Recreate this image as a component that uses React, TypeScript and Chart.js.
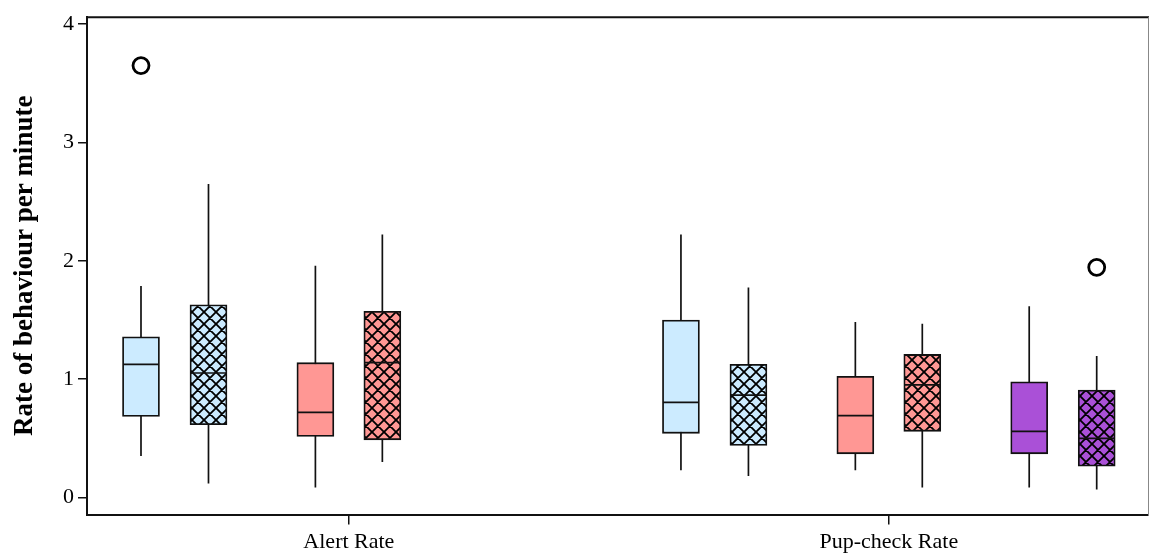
import React, { useEffect, useRef } from "react";
import { Chart, registerables } from "chart.js";

Chart.register(...registerables);

// ---------- data ----------
const categories = ["Alert Rate", "Pup-check Rate"];
const yTickValues = [0, 1, 2, 3, 4];

// [min, q1, median, q3, max] per category (null = no box in that category)
const lightBlueSolid = [
  [0.35, 0.685, 1.125, 1.357, 1.788],
  [0.229, 0.542, 0.803, 1.5, 2.222],
];
const lightBlueHatched = [
  [0.118, 0.615, 1.052, 1.629, 2.65],
  [0.181, 0.439, 0.865, 1.125, 1.774],
];
const salmonSolid = [
  [0.084, 0.515, 0.719, 1.139, 1.959],
  [0.229, 0.369, 0.691, 1.024, 1.483],
];
const salmonHatched = [
  [0.299, 0.487, 1.139, 1.573, 2.222],
  [0.084, 0.559, 0.951, 1.209, 1.469],
];
const purpleSolid = [null, [0.084, 0.369, 0.559, 0.977, 1.615]];
const purpleHatched = [null, [0.067, 0.265, 0.5, 0.907, 1.195]];

// outliers per category
const lightBlueSolidOutliers = [[3.65], []];
const purpleHatchedOutliers = [[], [1.945]];

// ---------- styles ----------
const FONT = "'Liberation Serif', 'Times New Roman', serif";
const slotOffsets = [-0.385, -0.26, -0.062, 0.062, 0.26, 0.385];

function makePattern(color: string): CanvasPattern | string {
  const size = 12;
  const c = document.createElement("canvas");
  c.width = size;
  c.height = size;
  const g = c.getContext("2d");
  if (!g) return color;
  g.fillStyle = color;
  g.fillRect(0, 0, size, size);
  g.strokeStyle = "#000";
  g.lineWidth = 1.8;
  g.beginPath();
  for (const k of [-size, 0, size]) {
    g.moveTo(k, 0);
    g.lineTo(k + size, size);
  }
  for (const k of [0, size, 2 * size]) {
    g.moveTo(k, 0);
    g.lineTo(k - size, size);
  }
  g.stroke();
  return g.createPattern(c, "repeat") || color;
}

const framePlugin = {
  id: "frame",
  afterDraw(chart: any) {
    const { ctx, chartArea } = chart;
    const { left, right, top, bottom } = chartArea;
    ctx.save();
    ctx.strokeStyle = "#111";
    ctx.lineWidth = 2;
    ctx.beginPath();
    ctx.moveTo(left, top);
    ctx.lineTo(right + 1, top);
    ctx.stroke();
    ctx.strokeStyle = "#888";
    ctx.lineWidth = 1;
    ctx.beginPath();
    ctx.moveTo(right + 0.5, top);
    ctx.lineTo(right + 0.5, bottom);
    ctx.stroke();
    ctx.restore();
  },
};

export default function App() {
  const ref = useRef<HTMLCanvasElement | null>(null);

  useEffect(() => {
    if (!ref.current) return;

    const series = [
      { stats: lightBlueSolid, color: "#CCEBFF", hatched: false, outliers: lightBlueSolidOutliers },
      { stats: lightBlueHatched, color: "#CCEBFF", hatched: true, outliers: [[], []] },
      { stats: salmonSolid, color: "#FF9794", hatched: false, outliers: [[], []] },
      { stats: salmonHatched, color: "#FF9794", hatched: true, outliers: [[], []] },
      { stats: purpleSolid, color: "#AA50D7", hatched: false, outliers: [[], []] },
      { stats: purpleHatched, color: "#AA50D7", hatched: true, outliers: purpleHatchedOutliers },
    ];

    const datasets: any[] = [];
    series.forEach((s, si) => {
      const off = slotOffsets[si];
      const boxes: any[] = [];
      const whiskers: any[] = [];
      const medians: any[] = [];
      const outs: any[] = [];
      categories.forEach((_, ci) => {
        const st = s.stats[ci];
        const x = ci + 1 + off;
        if (st) {
          boxes.push({ x, y: [st[1], st[3]] });
          whiskers.push({ x, y: st[0] }, { x, y: st[4] }, { x, y: null });
          medians.push({ x, y: st[2] });
        }
        (s.outliers[ci] || []).forEach((v: number) => outs.push({ x, y: v }));
      });
      datasets.push({
        type: "line",
        data: whiskers,
        borderColor: "#111",
        borderWidth: 1.7,
        pointRadius: 0,
        spanGaps: false,
        fill: false,
        tension: 0,
        order: 5,
      });
      datasets.push({
        type: "bar",
        data: boxes,
        backgroundColor: s.hatched ? makePattern(s.color) : s.color,
        borderColor: "#111",
        borderWidth: 1.8,
        borderSkipped: false,
        barThickness: 37,
        grouped: false,
        order: 3,
      });
      datasets.push({
        type: "scatter",
        data: medians,
        pointStyle: "line",
        pointRadius: 18,
        pointHoverRadius: 18,
        borderColor: "#111",
        pointBorderColor: "#111",
        pointBorderWidth: 1.7,
        order: 1,
      });
      if (outs.length) {
        datasets.push({
          type: "scatter",
          data: outs,
          pointStyle: "circle",
          pointRadius: 8,
          pointBackgroundColor: "rgba(255,255,255,0)",
          pointBorderColor: "#000",
          pointBorderWidth: 2.8,
          order: 0,
        });
      }
    });

    const chart = new Chart(ref.current, {
      type: "bar",
      data: { datasets },
      plugins: [framePlugin],
      options: {
        animation: false,
        responsive: false,
        layout: { autoPadding: false, padding: { top: 14, right: 1, left: 0, bottom: 0 } },
        plugins: { legend: { display: false }, tooltip: { enabled: false } },
        scales: {
          x: {
            type: "linear",
            min: 0.515,
            max: 2.48,
            offset: false,
            afterBuildTicks: (s: any) => {
              s.ticks = categories.map((_, i) => ({ value: i + 1 }));
            },
            afterFit: (s: any) => {
              s.height = 40.5;
            },
            ticks: {
              callback: (_v: any, i: number) => categories[i] ?? "",
              font: { family: FONT, size: 22 },
              color: "#000",
              padding: 5,
              maxRotation: 0,
              autoSkip: false,
            },
            grid: {
              display: true,
              drawOnChartArea: false,
              drawTicks: true,
              tickLength: 10,
              color: "#111",
              lineWidth: 1.5,
              offset: false,
            },
            border: { display: true, color: "#111", width: 2 },
          },
          y: {
            type: "linear",
            min: -0.144,
            max: 4.059,
            afterBuildTicks: (s: any) => {
              s.ticks = yTickValues.map((v) => ({ value: v }));
            },
            afterFit: (s: any) => {
              s.width = 87;
            },
            ticks: {
              callback: (v: any) => String(v),
              font: { family: FONT, size: 22 },
              color: "#000",
              padding: 4,
            },
            grid: {
              display: true,
              drawOnChartArea: false,
              drawTicks: true,
              tickLength: 9,
              color: "#111",
              lineWidth: 1.5,
            },
            border: { display: true, color: "#111", width: 2 },
            title: {
              display: true,
              text: "Rate of behaviour per minute",
              font: { family: FONT, size: 27, weight: "bold" },
              color: "#000",
              padding: { top: 9, bottom: 0 },
            },
          },
        },
      } as any,
    });

    return () => chart.destroy();
  }, []);

  return (
    <div style={{ position: "absolute", left: 0, top: 0, width: 1149, height: 555, background: "#fff" }}>
      <canvas ref={ref} width={1149} height={555} style={{ display: "block" }} />
    </div>
  );
}
